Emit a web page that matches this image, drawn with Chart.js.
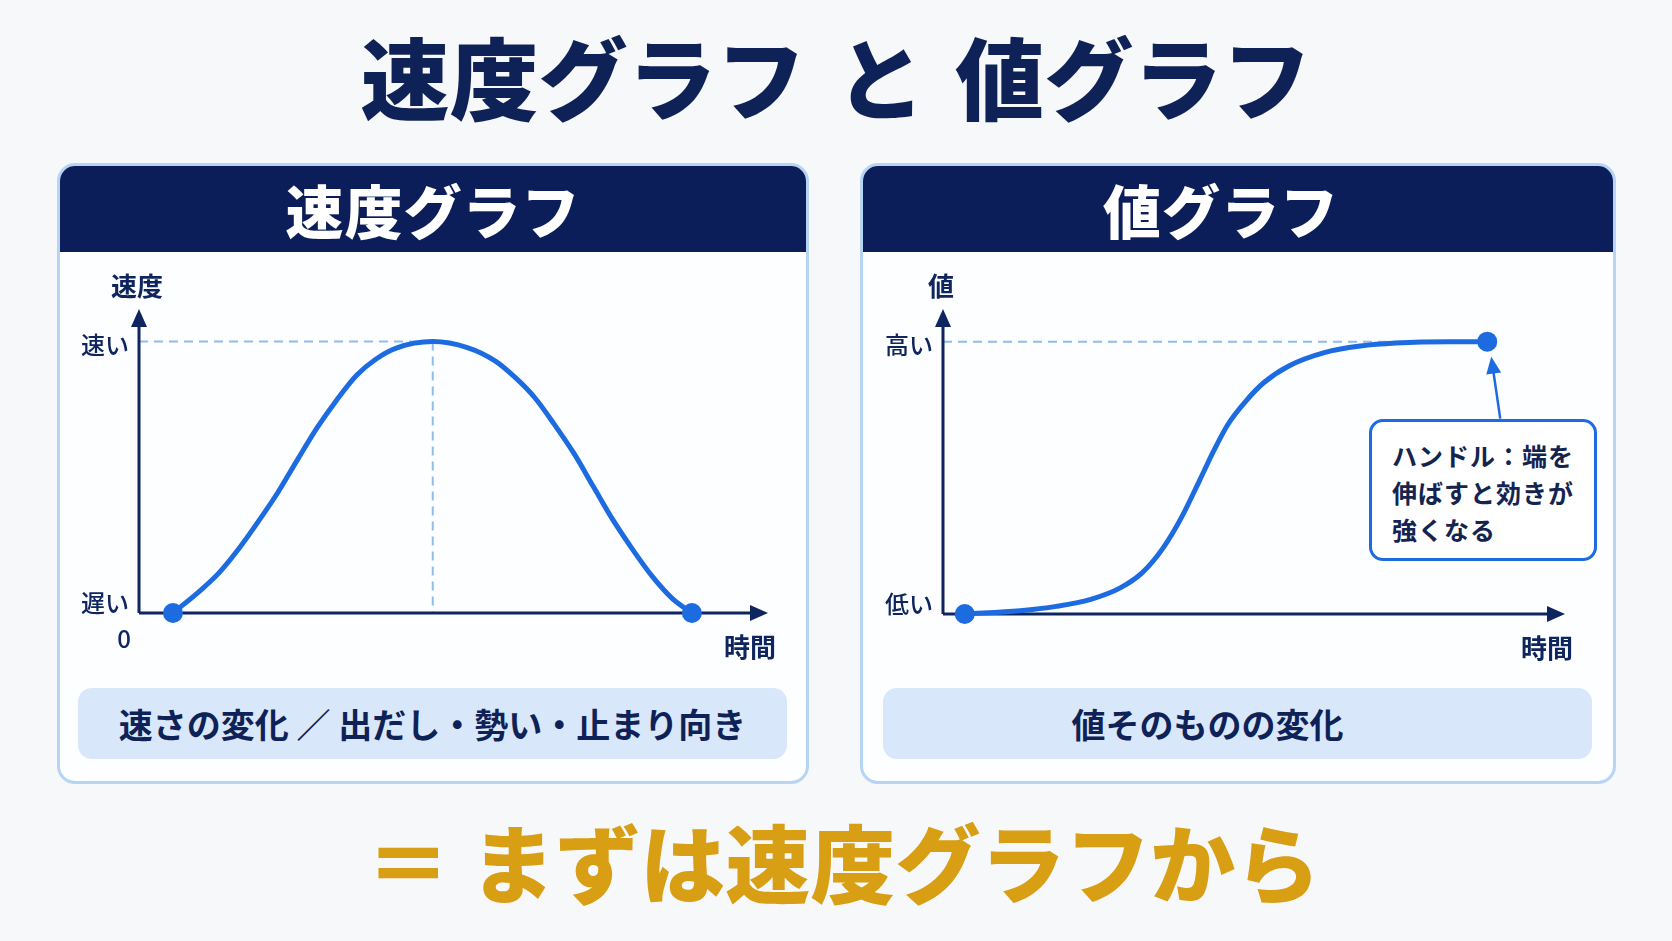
<!DOCTYPE html>
<html lang="ja">
<head>
<meta charset="utf-8">
<script src="https://cdn.jsdelivr.net/npm/chart.js@4.4.1/dist/chart.umd.min.js"></script>
<style>
  html, body { margin: 0; padding: 0; }
  body {
    width: 1672px; height: 941px; position: relative; overflow: hidden;
    background: #f7f8fa;
    font-family: "Noto Sans CJK JP", "Noto Sans", sans-serif;
  }
  .abs { position: absolute; }
  #mainTitle {
    left: 0; width: 1672px; top: 17px; text-align: center;
    font-size: 89px; font-weight: 900; color: #0f2257; line-height: 116px;
    word-spacing: 10px; white-space: pre;
  }
  .panel {
    position: absolute; top: 163px; height: 621px;
    background: #fdfeff; border: 3px solid #b7d4f4; border-radius: 18px;
    box-sizing: border-box; overflow: hidden;
  }
  .panelHead {
    position: absolute; left: 0; top: 0; right: 0; height: 86px;
    background: #0b1e59; color: #fff; text-align: center;
    font-size: 58px; font-weight: 900; line-height: 86px; letter-spacing: 1px;
    box-sizing: border-box;
  }
  .caption {
    position: absolute; height: 71px; top: 688px;
    background: #d8e7f9; border-radius: 14px; box-sizing: border-box;
    color: #0f2257; font-weight: 700; font-size: 34px; line-height: 71px; text-align: center;
  }
  #callout {
    left: 1369px; top: 419px; width: 228px; height: 142px; box-sizing: border-box;
    border: 3px solid #1c6be0; border-radius: 14px; background: #fff;
    color: #14244f; font-weight: 700; font-size: 25px; line-height: 37px;
    padding: 15px 0 0 20px; letter-spacing: 1px;
  }
  #bottomText {
    left: 0; width: 1686px; top: 800px; text-align: center;
    font-size: 85px; font-weight: 900; color: #d89e14; line-height: 120px; white-space: pre;
  }
  canvas { position: absolute; }
</style>
</head>
<body>
<div id="mainTitle" class="abs">速度グラフ と 値グラフ</div>

<div class="panel" style="left:57px; width:752px;"><div class="panelHead">速度グラフ</div></div>
<div class="panel" style="left:860px; width:756px;"><div class="panelHead" style="padding-right:34px;">値グラフ</div></div>

<canvas id="speedChart" width="751" height="430" style="left:57px; top:251px;"></canvas>
<canvas id="valueChart" width="755" height="430" style="left:860px; top:251px;"></canvas>

<div class="caption" style="left:78px; width:709px;">速さの変化 ／ 出だし・勢い・止まり向き</div>
<div class="caption" style="left:883px; width:709px; padding-right:60px;">値そのものの変化</div>

<div id="callout" class="abs">ハンドル：端を<br>伸ばすと効きが<br>強くなる</div>

<div id="bottomText" class="abs">＝ まずは速度グラフから</div>

<script>
// ---- data (time axis 0..100, value axis 0..1) ----
const speedTime   = [5.4, 9.6, 12.6, 15.8, 18.9, 22.1, 25.2, 28.3, 31.5, 34.6, 37.7, 40.9, 46.7,
                     52.2, 56.6, 59.8, 62.9, 66.0, 69.2, 72.3, 75.4, 78.6, 81.7, 84.8, 87.9];
const speedValues = [0, 0.08, 0.145, 0.235, 0.335, 0.445, 0.565, 0.682, 0.787, 0.876, 0.936, 0.976, 1.0,
                     0.978, 0.929, 0.868, 0.794, 0.696, 0.586, 0.463, 0.341, 0.230, 0.132, 0.053, 0];

const valueTime   = [3.5, 12.4, 18.2, 23.9, 28.5, 32.0, 35.4, 38.3, 41.2, 43.5, 45.8, 48.7, 51.6,
                     55.6, 61.3, 67.1, 72.8, 81.5, 87.5];
const valueValues = [0, 0.012, 0.028, 0.055, 0.096, 0.151, 0.243, 0.353, 0.488, 0.598, 0.696, 0.782, 0.850,
                     0.911, 0.960, 0.984, 0.995, 1.0, 1.0];

const speedAxisLabels = { title: '速度', high: '速い', low: '遅い', origin: '0', time: '時間' };
const valueAxisLabels = { title: '値', high: '高い', low: '低い', origin: '', time: '時間' };

// ---- styles ----
const NAVY = '#0f2560';
const BLUE = '#1c6be0';
const GUIDE = '#8ebcf0';
const FONT = '"Noto Sans CJK JP", "Noto Sans", sans-serif';

function toPoints(xs, ys) { return xs.map((x, i) => ({ x, y: ys[i] })); }

function arrowHead(ctx, tipX, tipY, dx, dy, len, half) {
  const L = Math.hypot(dx, dy); const ux = dx / L, uy = dy / L;
  const bx = tipX - ux * len, by = tipY - uy * len;
  ctx.beginPath();
  ctx.moveTo(tipX, tipY);
  ctx.lineTo(bx - uy * half, by + ux * half);
  ctx.lineTo(bx + uy * half, by - ux * half);
  ctx.closePath();
  ctx.fill();
}

const axesPlugin = {
  id: 'drawnAxes',
  beforeDatasetsDraw(chart, args, opts) {
    const { ctx, scales: { x, y } } = chart;
    const x0 = x.getPixelForValue(0), y0 = y.getPixelForValue(0);
    const xEnd = x.getPixelForValue(x.max), yTop = y.getPixelForValue(y.max);
    const y1 = y.getPixelForValue(1);
    ctx.save();
    // dashed guides
    ctx.strokeStyle = GUIDE; ctx.lineWidth = 2; ctx.setLineDash([9, 6]);
    ctx.beginPath();
    ctx.moveTo(x0, y1); ctx.lineTo(x.getPixelForValue(opts.guideX), y1);
    if (opts.vertical) {
      const px = x.getPixelForValue(opts.guideX);
      ctx.moveTo(px, y1); ctx.lineTo(px, y0);
    }
    ctx.stroke();
    ctx.setLineDash([]);
    // axes
    ctx.strokeStyle = NAVY; ctx.fillStyle = NAVY; ctx.lineWidth = 3;
    ctx.beginPath();
    ctx.moveTo(x0, y0); ctx.lineTo(x0, yTop + 14);
    ctx.moveTo(x0, y0); ctx.lineTo(xEnd - 14, y0);
    ctx.stroke();
    arrowHead(ctx, x0, yTop, 0, -1, 18, 8);
    arrowHead(ctx, xEnd, y0, 1, 0, 18, 8);
    // labels
    const L = opts.labels;
    ctx.textBaseline = 'middle';
    ctx.font = '700 26px ' + FONT;
    ctx.textAlign = 'center';
    ctx.fillText(L.title, x0 - 2, yTop - 23);
    ctx.fillText(L.time, xEnd - 18, y0 + 34);
    ctx.font = '500 24px ' + FONT;
    ctx.textAlign = 'right';
    ctx.fillText(L.high, x0 - 10, y1 + 3);
    ctx.fillText(L.low, x0 - 10, y0 - 10);
    if (L.origin) { ctx.textAlign = 'center'; ctx.fillText(L.origin, x0 - 15, y0 + 26); }
    ctx.restore();
  },
  afterDatasetsDraw(chart, args, opts) {
    if (!opts.callout) return;
    const { ctx, scales: { x, y } } = chart;
    const c = opts.callout;
    const tipX = x.getPixelForValue(c.x) + 4, tipY = y.getPixelForValue(c.y) + 15;
    const fromX = tipX + 9, fromY = tipY + 62;
    ctx.save();
    ctx.strokeStyle = BLUE; ctx.fillStyle = BLUE; ctx.lineWidth = 2.5;
    ctx.beginPath(); ctx.moveTo(fromX, fromY); ctx.lineTo(tipX + 2, tipY + 14); ctx.stroke();
    arrowHead(ctx, tipX, tipY, tipX - fromX, tipY - fromY, 17, 7.5);
    ctx.restore();
  }
};

function makeChart(id, xs, ys, padding, pluginOpts) {
  const n = xs.length;
  return new Chart(document.getElementById(id), {
    type: 'line',
    data: {
      datasets: [{
        data: toPoints(xs, ys),
        borderColor: BLUE, borderWidth: 5,
        backgroundColor: BLUE,
        pointBackgroundColor: BLUE, pointBorderWidth: 0,
        pointRadius: ctx => (ctx.dataIndex === 0 || ctx.dataIndex === n - 1) ? 10 : 0,
        pointHoverRadius: 0,
        cubicInterpolationMode: 'monotone',
        fill: false, clip: false
      }]
    },
    options: {
      responsive: false, animation: false, devicePixelRatio: 1,
      layout: { padding },
      plugins: { legend: { display: false }, tooltip: { enabled: false }, drawnAxes: pluginOpts },
      scales: {
        x: { type: 'linear', min: 0, max: 100, display: false },
        y: { type: 'linear', min: 0, max: 1.12, display: false }
      }
    },
    plugins: [axesPlugin]
  });
}

makeChart('speedChart', speedTime, speedValues,
  { left: 82, right: 40, top: 58, bottom: 68 },
  { labels: speedAxisLabels, guideX: speedTime[speedValues.indexOf(Math.max(...speedValues))], vertical: true });

makeChart('valueChart', valueTime, valueValues,
  { left: 83, right: 50, top: 58, bottom: 67 },
  { labels: valueAxisLabels, guideX: valueTime[valueTime.length - 1], vertical: false,
    callout: { x: valueTime[valueTime.length - 1], y: valueValues[valueValues.length - 1] } });
</script>
</body>
</html>
